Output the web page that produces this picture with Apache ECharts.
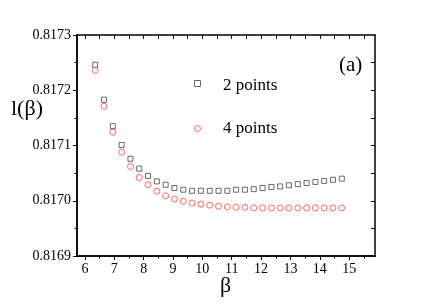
<!DOCTYPE html>
<html><head><meta charset="utf-8">
<script src="https://cdn.jsdelivr.net/npm/echarts@6/dist/echarts.min.js"></script>
<style>html,body{margin:0;padding:0;background:#fff}#c{width:436px;height:308px}</style>
</head><body><div id="c"></div>
<script>
const betaValues = [6.35, 6.65, 6.95, 7.25, 7.55, 7.85, 8.15, 8.45, 8.75, 9.05, 9.35, 9.65, 9.95, 10.25, 10.55, 10.85, 11.15, 11.45, 11.75, 12.05, 12.35, 12.65, 12.95, 13.25, 13.55, 13.85, 14.15, 14.45, 14.75];
const twoPoints = [0.817246, 0.817183, 0.817135, 0.817101, 0.817076, 0.817058, 0.817045, 0.817035, 0.817029, 0.817023, 0.817020, 0.817018, 0.817018, 0.817018, 0.817018, 0.817018, 0.817020, 0.817020, 0.817021, 0.817023, 0.817025, 0.817026, 0.817028, 0.817030, 0.817032, 0.817034, 0.817036, 0.817038, 0.817040];
const fourPoints = [0.817236, 0.817171, 0.817124, 0.817088, 0.817062, 0.817042, 0.817029, 0.817017, 0.817009, 0.817003, 0.816999, 0.816996, 0.816994, 0.816992, 0.816990, 0.816989, 0.816988, 0.816988, 0.816987, 0.816987, 0.816987, 0.816987, 0.816987, 0.816987, 0.816987, 0.816987, 0.816987, 0.816987, 0.816987];
const xMajorTicks = [6, 7, 8, 9, 10, 11, 12, 13, 14, 15];
const xMinorTicks = [6.5, 7.5, 8.5, 9.5, 10.5, 11.5, 12.5, 13.5, 14.5, 15.5];
const xAllTicks = [6, 6.5, 7, 7.5, 8, 8.5, 9, 9.5, 10, 10.5, 11, 11.5, 12, 12.5, 13, 13.5, 14, 14.5, 15, 15.5];
const yMajorTicks = [0.8169, 0.8170, 0.8171, 0.8172, 0.8173];
const yMinorTicks = [0.81695, 0.81705, 0.81715, 0.81725];
const yAllTicks = [0.81695, 0.8170, 0.81705, 0.8171, 0.81715, 0.8172, 0.81725];
const seriesNames = ['2 points', '4 points'];

const FONT = '"Times New Roman", "Liberation Serif", serif';
const X_MIN = 5.73, X_MAX = 15.88, Y_MIN = 0.8169, Y_MAX = 0.8173;
const gridRect = {left: 77, top: 35, width: 298, height: 221};
const axisLine = {show: true, lineStyle: {color: '#000', width: 1.5}};

function xAx(grid, pos, ticks, len, inside, labels) {
  return {
    type: 'value', gridIndex: grid, position: pos, min: X_MIN, max: X_MAX,
    axisLine: axisLine, splitLine: {show: false},
    axisTick: {show: true, inside: inside, length: len, customValues: ticks, lineStyle: {color: '#000', width: 1}},
    axisLabel: labels ? {show: true, customValues: xMajorTicks, margin: 6, color: '#000', fontFamily: FONT, fontSize: 14, formatter: v => String(v)} : {show: false}
  };
}
function yAx(grid, pos, ticks, len, inside, labels) {
  return {
    type: 'value', gridIndex: grid, position: pos, min: Y_MIN, max: Y_MAX,
    axisLine: axisLine, splitLine: {show: false},
    axisTick: {show: true, inside: inside, length: len, customValues: ticks, lineStyle: {color: '#000', width: 1}},
    axisLabel: labels ? {show: true, customValues: yMajorTicks, margin: 6, color: '#000', fontFamily: FONT, fontSize: 14, formatter: v => v.toFixed(4)} : {show: false}
  };
}

const chart = echarts.init(document.getElementById('c'), null, {renderer: 'canvas'});
chart.setOption({
  backgroundColor: '#fff',
  animation: false,
  textStyle: {fontFamily: FONT},
  grid: [Object.assign({}, gridRect), Object.assign({}, gridRect)],
  xAxis: [
    xAx(0, 'bottom', xMajorTicks, 4, false, true),
    xAx(0, 'top', xAllTicks, 4, true, false),
    xAx(1, 'bottom', xMinorTicks, 2.5, false, false)
  ],
  yAxis: [
    yAx(0, 'left', yMajorTicks, 4, false, true),
    yAx(0, 'right', yAllTicks, 4, true, false),
    yAx(1, 'left', yMinorTicks, 2.5, false, false)
  ],
  legend: {
    orient: 'vertical', left: 194, top: 80, padding: 0, itemGap: 38, itemWidth: 6, itemHeight: 6,
    data: seriesNames,
    formatter: () => '',
    itemStyle: {color: 'transparent', borderWidth: 1},
    textStyle: {fontSize: 6, lineHeight: 6}
  },
  graphic: [
    {type: 'text', left: 11, top: 98, style: {text: 'l(β)', fontFamily: FONT, fontSize: 22, fill: '#000'}},
    {type: 'text', left: 220, top: 275, style: {text: 'β', fontFamily: FONT, fontSize: 22, fill: '#000'}},
    {type: 'text', left: 339, top: 55, style: {text: '(a)', fontFamily: FONT, fontSize: 21, fill: '#000'}},
    {type: 'text', left: 223, top: 77, style: {text: seriesNames[0], fontFamily: FONT, fontSize: 17, fill: '#000'}},
    {type: 'text', left: 223, top: 120, style: {text: seriesNames[1], fontFamily: FONT, fontSize: 17, fill: '#000'}}
  ],
  series: [
    {name: seriesNames[0], type: 'scatter', xAxisIndex: 0, yAxisIndex: 0, symbol: 'rect', symbolSize: 5,
     itemStyle: {color: 'transparent', borderColor: '#444', borderWidth: 1},
     data: betaValues.map((b, i) => [b, twoPoints[i]])},
    {name: seriesNames[1], type: 'scatter', xAxisIndex: 0, yAxisIndex: 0, symbol: 'circle', symbolSize: 6,
     itemStyle: {color: 'transparent', borderColor: '#ff4040', borderWidth: 1},
     data: betaValues.map((b, i) => [b, fourPoints[i]])}
  ]
});
</script></body></html>
